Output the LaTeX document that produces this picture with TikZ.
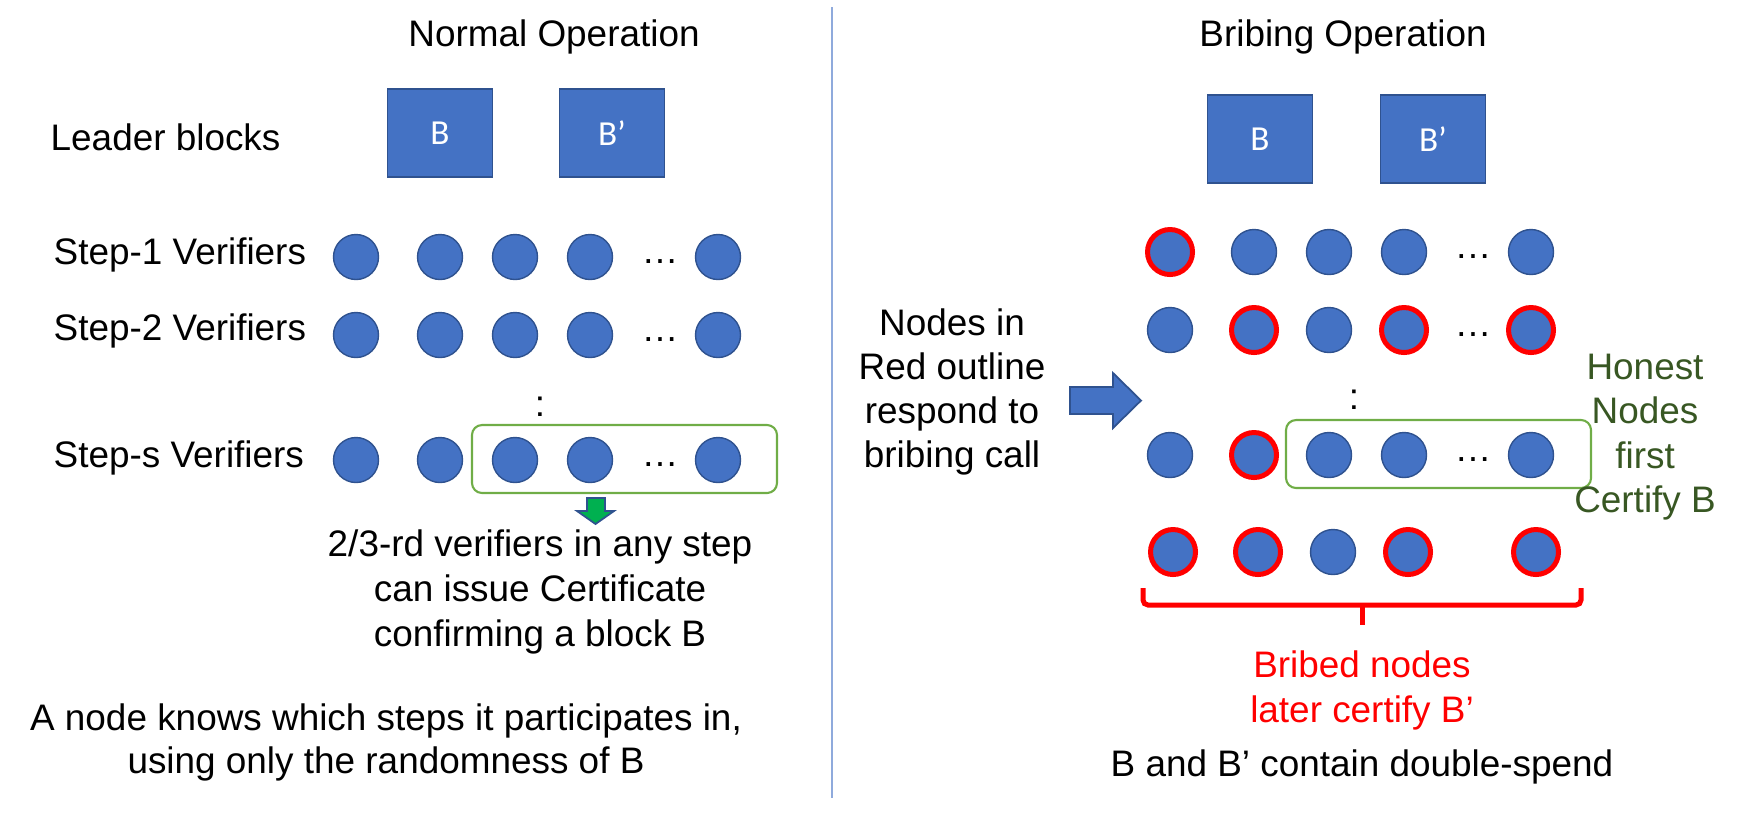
\documentclass[tikz,border=0pt]{standalone}
\usepackage{fontspec}
\setmainfont{Liberation Sans}
\newfontfamily\blockfont{Carlito}
\usepackage{tikz}
\usetikzlibrary{positioning}
\definecolor{nodeblue}{HTML}{4472C4}
\definecolor{nodeedge}{HTML}{2F528F}
\definecolor{grpgreen}{HTML}{70AD47}
\definecolor{honestgreen}{HTML}{385723}
\definecolor{downgreen}{HTML}{00B050}

\begin{document}
\begin{tikzpicture}[x=0.1mm, y=-0.1mm,
      lbl/.style={font=\fontsize{10.5}{12.6}\selectfont, inner sep=0pt, align=center},
      blockbox/.style={rectangle, fill=nodeblue, draw=nodeedge, line width=0.5pt,
        minimum width=10.5mm, minimum height=8.8mm, text=white,
        font=\blockfont\fontsize{10}{12}\selectfont},
      vnode/.style={circle, fill=nodeblue, draw=nodeedge, line width=0.4pt,
        minimum size=4.5mm, inner sep=0pt},
      bribed/.style={vnode, draw=red, line width=0.5mm},
      grp/.style={draw=grpgreen, line width=0.6pt, rounded corners=1mm},
      bigarrow/.style={fill=nodeblue, draw=nodeedge, line width=0.5pt},
      brk/.style={draw=red, line width=0.5mm}
    ]
      \useasboundingbox (0,0) rectangle (1743,812);
      % divider
      \coordinate (top) at (832,7);
      \coordinate (bot) at (832,798);
      \draw[nodeblue!60, line width=0.5pt] (top) -- (bot);

      % normal operation
      \node[lbl] (ntitle) at (554,37) {Normal Operation};
      \node[lbl, anchor=west] (leader) at (50,137) {Leader blocks};
      \node[blockbox] (nb) at (440,133) {B};
      \node[blockbox] (nbp) at (612,133) {B’};

      \node[lbl, anchor=west] (step1) at (53,255) {Step-1 Verifiers};
      \node[lbl, anchor=west] (step2) at (53,331) {Step-2 Verifiers};
      \node[lbl, anchor=west] (steps) at (53,458) {Step-s Verifiers};

      \node[vnode] (a1) at (356,257) {}; \node[vnode] (a2) at (440,257) {};
      \node[vnode] (a3) at (515,257) {}; \node[vnode] (a4) at (590,257) {};
      \node[lbl, anchor=base] (ad) at (660,263) {…};
      \node[vnode] (a5) at (718,257) {};

      \node[vnode] (b1) at (356,335) {}; \node[vnode] (b2) at (440,335) {};
      \node[vnode] (b3) at (515,335) {}; \node[vnode] (b4) at (590,335) {};
      \node[lbl, anchor=base] (bd) at (660,341) {…};
      \node[vnode] (b5) at (718,335) {};

      \node[lbl] (lvdots) at (540,407) {:};

      \node[vnode] (c1) at (356,460) {}; \node[vnode] (c2) at (440,460) {};
      \node[vnode] (c3) at (515,460) {}; \node[vnode] (c4) at (590,460) {};
      \node[lbl, anchor=base] (cd) at (660,466) {…};
      \node[vnode] (c5) at (718,460) {};
      \draw[grp] (472,425) rectangle (777,493);

      % two-thirds arrow
      \draw[fill=downgreen, draw=nodeedge, line width=0.5pt]
        (587,498) -- (605,498) -- (605,511) -- (614,511) -- (595.5,524)
        -- (577,511) -- (587,511) -- cycle;
      \node[lbl, font=\fontsize{10.5}{12.9}\selectfont] (cert) at (540,592) {2/3-rd verifiers in any step\\can issue Certificate\\confirming a block B};
      \node[lbl, font=\fontsize{10.5}{12.2}\selectfont] (knows) at (386,742) {A node knows which steps it participates in,\\using only the randomness of B};

      % bribing operation
      \node[lbl] (btitle) at (1343,37) {Bribing Operation};
      \node[blockbox] (rb) at (1260,139) {B};
      \node[blockbox] (rbp) at (1433,139) {B’};

      \node[bribed] (d1) at (1170,252) {}; \node[vnode] (d2) at (1254,252) {};
      \node[vnode] (d3) at (1329,252) {}; \node[vnode] (d4) at (1404,252) {};
      \node[lbl, anchor=base] (dd) at (1473,258) {…};
      \node[vnode] (d5) at (1531,252) {};

      \node[vnode] (e1) at (1170,330) {}; \node[bribed] (e2) at (1254,330) {};
      \node[vnode] (e3) at (1329,330) {}; \node[bribed] (e4) at (1404,330) {};
      \node[lbl, anchor=base] (ed) at (1473,336) {…};
      \node[bribed] (e5) at (1531,330) {};

      \node[lbl] (rvdots) at (1354,400) {:};

      \node[vnode] (f1) at (1170,455) {}; \node[bribed] (f2) at (1254,455) {};
      \node[vnode] (f3) at (1329,455) {}; \node[vnode] (f4) at (1404,455) {};
      \node[lbl, anchor=base] (fd) at (1473,461) {…};
      \node[vnode] (f5) at (1531,455) {};
      \draw[grp] (1286,420) rectangle (1591,488);

      \node[bribed] (g1) at (1173,552) {}; \node[bribed] (g2) at (1258,552) {};
      \node[vnode] (g3) at (1333,552) {}; \node[bribed] (g4) at (1408,552) {};
      \node[bribed] (g5) at (1536,552) {};

      \node[lbl] (respond) at (952,392) {Nodes in\\Red outline\\respond to\\bribing call};
      \draw[bigarrow] (1070,387) -- (1113,387) -- (1113,373) -- (1141,400.5)
        -- (1113,428) -- (1113,414) -- (1070,414) -- cycle;
      \node[lbl, text=honestgreen] (honest) at (1645,437) {Honest\\Nodes\\first\\Certify B};

      % bracket under bribed nodes
      \draw[brk, rounded corners=0.5mm] (1143,588) -- (1143,605) -- (1581,605) -- (1581,588);
      \draw[brk] (1362,605) -- (1362,625);
      \node[lbl, font=\fontsize{10.5}{12.8}\selectfont] [text=red] (later) at (1362,690) {Bribed nodes\\later certify B’};
      \node[lbl] (dspend) at (1362,767) {B and B’ contain double-spend};
    \end{tikzpicture}
\end{document}
